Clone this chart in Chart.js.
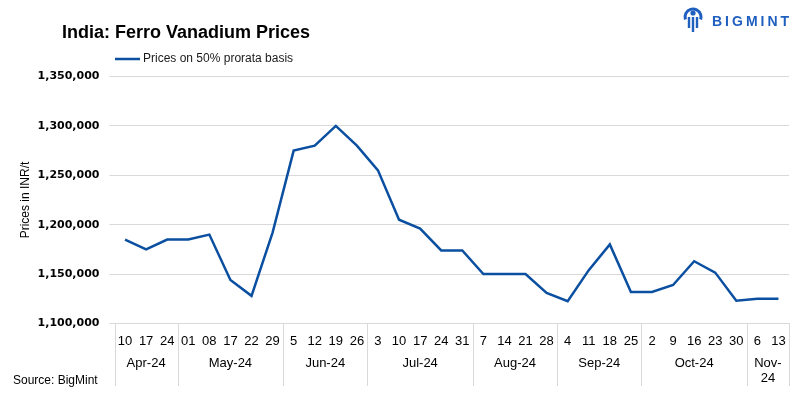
<!DOCTYPE html>
<html>
<head>
<meta charset="utf-8">
<script src="https://cdn.jsdelivr.net/npm/chart.js@4.4.1/dist/chart.umd.min.js"></script>
<style>
  html, body { margin: 0; padding: 0; background: #ffffff; }
  #wrap { width: 805px; height: 398px; position: relative; }
  canvas { display: block; }
</style>
</head>
<body>
<div id="wrap"><canvas id="c" width="805" height="398"></canvas></div>
<script>
// ---- data ----
const days = ['10','17','24','01','08','17','22','29','5','12','19','26','3','10','17','24','31','7','14','21','28','4','11','18','25','2','9','16','23','30','6','13'];
const months = ['Apr-24','May-24','Jun-24','Jul-24','Aug-24','Sep-24','Oct-24','Nov-24'];
const monthSpans = [3,5,4,5,4,4,5,2];
const prices = [1185000,1175000,1185000,1185000,1190000,1144000,1128000,1192000,1275000,1280000,1300000,1280000,1255000,1205000,1196000,1174000,1174000,1150000,1150000,1150000,1131000,1122500,1154000,1180000,1132000,1132000,1139000,1163000,1151500,1123000,1125000,1125000];
const yTicks = [1100000,1150000,1200000,1250000,1300000,1350000];
const seriesName = 'Prices on 50% prorata basis';
const titleText = 'India: Ferro Vanadium Prices';
const yTitle = 'Prices in INR/t';
const sourceText = 'Source: BigMint';

const LINE = '#0a4fa0';
const GRID = '#d9d9d9';
const FONT = "'Liberation Sans', Arial, sans-serif";

const decor = {
  id: 'decor',
  afterDraw(chart) {
    const ctx = chart.ctx;
    const x = chart.scales.x;
    const area = chart.chartArea;
    ctx.save();
    // title
    ctx.fillStyle = '#000';
    ctx.font = 'bold 18px ' + FONT;
    ctx.textBaseline = 'middle';
    ctx.textAlign = 'left';
    ctx.fillText(titleText, 62, 33);
    // legend
    ctx.strokeStyle = LINE;
    ctx.lineWidth = 2.5;
    ctx.beginPath(); ctx.moveTo(115, 59); ctx.lineTo(140, 59); ctx.stroke();
    ctx.fillStyle = '#1a1a1a';
    ctx.font = '12px ' + FONT;
    ctx.fillText(seriesName, 143, 59);
    // source
    ctx.fillStyle = '#000';
    ctx.fillText(sourceText, 13, 381);
    // month separators and labels
    const step = x.getPixelForValue(1) - x.getPixelForValue(0);
    ctx.strokeStyle = GRID;
    ctx.lineWidth = 1;
    let idx = 0;
    const bounds = [0];
    monthSpans.forEach(s => { idx += s; bounds.push(idx); });
    bounds.forEach(b => {
      const px = Math.round(x.getPixelForValue(b) - step / 2) + 0.5;
      ctx.beginPath(); ctx.moveTo(px, area.bottom); ctx.lineTo(px, 386); ctx.stroke();
    });
    ctx.fillStyle = '#000';
    ctx.font = '13px ' + FONT;
    ctx.textAlign = 'center';
    months.forEach((m, i) => {
      const cx = (x.getPixelForValue(bounds[i]) + x.getPixelForValue(bounds[i + 1] - 1)) / 2;
      if (monthSpans[i] <= 2) {
        const parts = m.split('-');
        ctx.fillText(parts[0] + '-', cx, 363);
        ctx.fillText(parts[1], cx, 378);
      } else {
        ctx.fillText(m, cx, 363);
      }
    });
    // logo
    const lc = '#1f5fbf';
    ctx.fillStyle = lc;
    ctx.strokeStyle = lc;
    ctx.lineWidth = 3;
    ctx.beginPath(); ctx.arc(693, 17, 8, Math.PI * 0.9, Math.PI * 2.1); ctx.stroke();
    ctx.beginPath(); ctx.arc(693, 13, 2.6, 0, Math.PI * 2); ctx.fill();
    ctx.lineWidth = 2.4;
    [689, 693, 697].forEach((lx, k) => {
      ctx.beginPath(); ctx.moveTo(lx, 17); ctx.lineTo(lx, k === 1 ? 32 : 28); ctx.stroke();
    });
    ctx.font = 'bold 14px ' + FONT;
    ctx.textAlign = 'left';
    ctx.textBaseline = 'middle';
    if ('letterSpacing' in ctx) { ctx.letterSpacing = '3px'; }
    ctx.fillText('BIGMINT', 712, 22);
    ctx.restore();
  }
};

new Chart(document.getElementById('c'), {
  type: 'line',
  data: {
    labels: days,
    datasets: [{
      label: seriesName,
      data: prices,
      borderColor: LINE,
      backgroundColor: LINE,
      borderWidth: 2.5,
      pointRadius: 0,
      tension: 0,
      fill: false
    }]
  },
  options: {
    responsive: false,
    devicePixelRatio: 1,
    animation: false,
    layout: { padding: { left: 14, right: 16, top: 76.5, bottom: 12.5 } },
    plugins: { legend: { display: false }, title: { display: false }, tooltip: { enabled: false } },
    scales: {
      x: {
        type: 'category',
        offset: true,
        grid: { display: false, drawTicks: false },
        border: { display: true, color: GRID, width: 1 },
        ticks: { autoSkip: false, maxRotation: 0, minRotation: 0, padding: 10, color: '#000', font: { family: FONT, size: 13 } },
        afterFit(s) { s.height = 62; }
      },
      y: {
        min: 1100000,
        max: 1350000,
        afterBuildTicks(s) { s.ticks = yTicks.map(v => ({ value: v })); },
        grid: { color: GRID, lineWidth: 1, tickLength: 5, drawTicks: true },
        border: { display: false },
        ticks: {
          padding: 10,
          color: '#000',
          font: { family: "'DejaVu Sans', sans-serif", size: 11, weight: 'bold' },
          callback: v => Number(v).toLocaleString('en-US')
        },
        title: { display: true, text: yTitle, color: '#000', font: { family: FONT, size: 12 }, padding: { top: 4, bottom: 0 } },
        afterFit(s) { s.width = 100.5; }
      }
    }
  },
  plugins: [decor]
});
</script>
</body>
</html>
